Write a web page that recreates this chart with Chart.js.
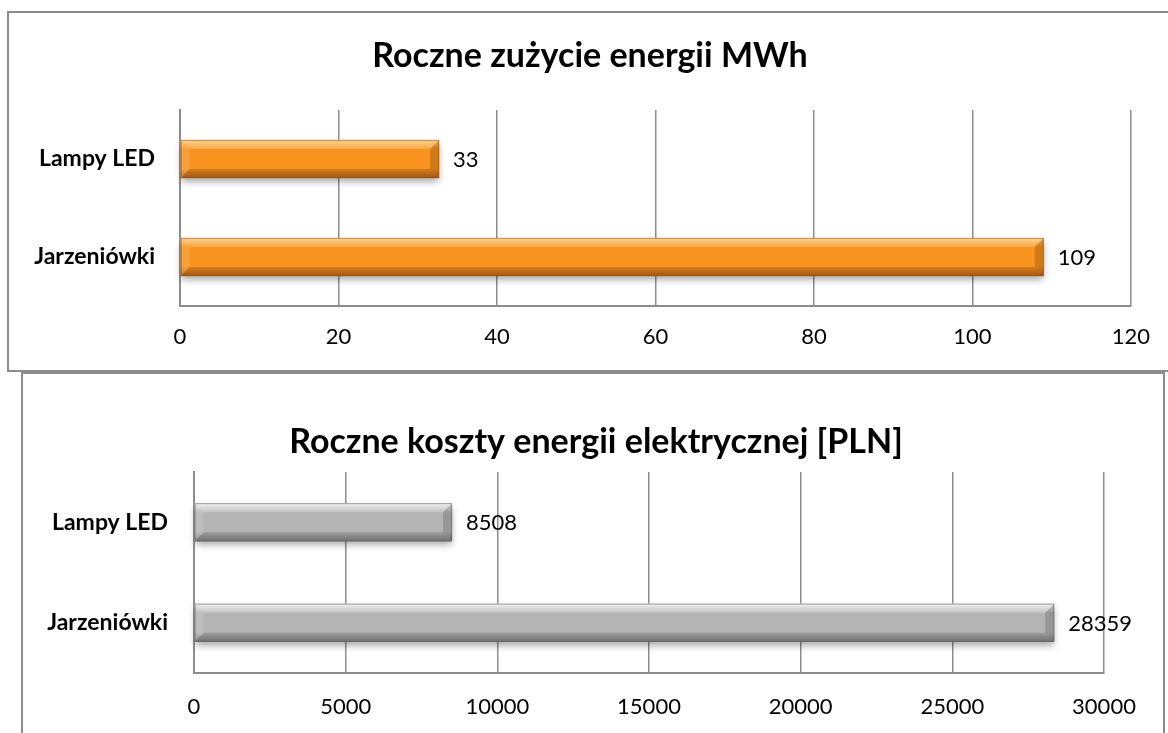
<!DOCTYPE html>
<html>
<head>
<meta charset="utf-8">
<script src="https://cdn.jsdelivr.net/npm/chart.js@4/dist/chart.umd.min.js"></script>
<style>
    html, body { margin: 0; background: #fff; overflow: hidden; width: 1168px; height: 733px; }
    body { position: relative; }
    .box { position: absolute; border: 2px solid #8c8c8c; background: #fff; }
    #box1 { left: 7px; top: 11px; width: 1159px; height: 357px; border-right: none; }
    #box2 { left: 21px; top: 372px; width: 1140px; height: 380px; }
    canvas { position: absolute; left: 0; top: 0; }
</style>
</head>
<body>
<div class="box" id="box1"><canvas id="energyChart" width="1159" height="357"></canvas></div>
<div class="box" id="box2"><canvas id="costChart" width="1140" height="359"></canvas></div>
<script>
// data
const categories = ['Lampy LED', 'Jarzeniówki'];
const energyMWh = [32.7, 109];
const costPLN = [8508, 28359];
const energyTicks = [0, 20, 40, 60, 80, 100, 120];
const costTicks = [0, 5000, 10000, 15000, 20000, 25000, 30000];

const FONT = 'Lato, "Open Sans", sans-serif';

// chart title, centred on the frame rather than on the plot
const frameTitle = {
    id: 'frameTitle',
    afterDraw(chart) {
        const opts = chart.options.plugins.frameTitle;
        const ctx = chart.ctx;
        ctx.save();
        ctx.font = 'bold 34px ' + FONT;
        ctx.fillStyle = '#000';
        ctx.textAlign = 'center';
        ctx.textBaseline = 'middle';
        ctx.fillText(opts.text, opts.x, opts.y);
        ctx.restore();
    }
};

// glossy bevelled bars, drawn over the library's bar elements
const bevelBars = {
    id: 'bevelBars',
    afterDatasetsDraw(chart) {
        const ctx = chart.ctx;
        const pal = chart.options.plugins.bevelBars;
        chart.getDatasetMeta(0).data.forEach(function (bar) {
            const x0 = bar.base, x1 = bar.x;
            const y0 = bar.y - bar.height / 2, y1 = bar.y + bar.height / 2;
            const b = 9;
            ctx.save();
            const g = ctx.createLinearGradient(0, y0, 0, y1);
            g.addColorStop(0, pal.light);
            g.addColorStop(0.25, pal.mid);
            g.addColorStop(0.75, pal.mid);
            g.addColorStop(1, pal.dark);
            ctx.shadowColor = 'rgba(0,0,0,0.35)';
            ctx.shadowBlur = 7;
            ctx.shadowOffsetY = 4;
            ctx.fillStyle = g;
            ctx.fillRect(x0, y0, x1 - x0, y1 - y0);
            ctx.shadowColor = 'transparent';
            function facet(pts, color) {
                ctx.beginPath();
                ctx.moveTo(pts[0][0], pts[0][1]);
                for (let i = 1; i < pts.length; i++) ctx.lineTo(pts[i][0], pts[i][1]);
                ctx.closePath();
                ctx.fillStyle = color;
                ctx.fill();
            }
            facet([[x0, y0], [x1, y0], [x1 - b, y0 + b], [x0 + b, y0 + b]], 'rgba(255,255,255,0.18)');
            facet([[x0, y1], [x1, y1], [x1 - b, y1 - b], [x0 + b, y1 - b]], 'rgba(0,0,0,0.12)');
            facet([[x0, y0], [x0 + b, y0 + b], [x0 + b, y1 - b], [x0, y1]], 'rgba(255,255,255,0.12)');
            facet([[x1, y0], [x1 - b, y0 + b], [x1 - b, y1 - b], [x1, y1]], 'rgba(0,0,0,0.16)');
            ctx.strokeStyle = pal.edge;
            ctx.lineWidth = 1;
            ctx.strokeRect(x0 + 0.5, y0 + 0.5, x1 - x0 - 1, y1 - y0 - 1);
            ctx.restore();
        });
    }
};

// value labels at the end of each bar
const valueLabels = {
    id: 'valueLabels',
    afterDatasetsDraw(chart) {
        const ctx = chart.ctx;
        const values = chart.data.datasets[0].data;
        ctx.save();
        ctx.font = '22px ' + FONT;
        ctx.fillStyle = '#000';
        ctx.textBaseline = 'middle';
        chart.getDatasetMeta(0).data.forEach(function (bar, i) {
            ctx.fillText(Math.round(values[i]), bar.x + 14, bar.y + 1);
        });
        ctx.restore();
    }
};

function makeChart(id, title, values, tickValues, palette, layout) {
    return new Chart(document.getElementById(id).getContext('2d'), {
        type: 'bar',
        data: {
            labels: categories,
            datasets: [{
                data: values,
                backgroundColor: palette.mid,
                borderWidth: 0,
                barPercentage: layout.barPct,
                categoryPercentage: 1
            }]
        },
        options: {
            indexAxis: 'y',
            responsive: false,
            animation: false,
            layout: { padding: { left: 0, right: layout.right, top: layout.top, bottom: 0 } },
            scales: {
                x: {
                    min: tickValues[0],
                    max: tickValues[tickValues.length - 1],
                    afterBuildTicks: function (scale) {
                        scale.ticks = tickValues.map(function (v) { return { value: v }; });
                    },
                    afterFit: function (scale) { scale.height = layout.xHeight; },
                    grid: { color: '#8c8c8c', lineWidth: 1.5, drawTicks: false },
                    border: { display: true, color: '#8c8c8c', width: 2 },
                    ticks: {
                        color: '#000',
                        padding: layout.xPad,
                        font: { family: FONT, size: 22 },
                        callback: function (v) { return String(v); }
                    }
                },
                y: {
                    afterFit: function (scale) { scale.width = layout.yWidth; },
                    grid: { display: false, drawTicks: false },
                    border: { display: true, color: '#8c8c8c', width: 2 },
                    ticks: { color: '#000', padding: layout.yPad, font: { family: FONT, size: 23, weight: 'bold' } }
                }
            },
            plugins: {
                legend: { display: false },
                tooltip: { enabled: false },
                frameTitle: { text: title, x: layout.titleX, y: layout.titleY },
                bevelBars: palette
            }
        },
        plugins: [frameTitle, bevelBars, valueLabels]
    });
}

document.addEventListener('DOMContentLoaded', function () {
    makeChart('energyChart', 'Roczne zużycie energii MWh', energyMWh, energyTicks,
        { light: '#fcc878', mid: '#f7931e', dark: '#b8621a', edge: 'rgba(150,80,20,0.5)' },
        { top: 97, right: 36, xHeight: 64, xPad: 18, yWidth: 171, yPad: 25, titleX: 581, titleY: 43, barPct: 0.39 });

    makeChart('costChart', 'Roczne koszty energii elektrycznej [PLN]', costPLN, costTicks,
        { light: '#eeeeee', mid: '#b4b4b4', dark: '#808080', edge: 'rgba(90,90,90,0.5)' },
        { top: 98, right: 59, xHeight: 60, xPad: 21, yWidth: 171, yPad: 26, titleX: 573, titleY: 68, barPct: 0.38 });
});
</script>
</body>
</html>
